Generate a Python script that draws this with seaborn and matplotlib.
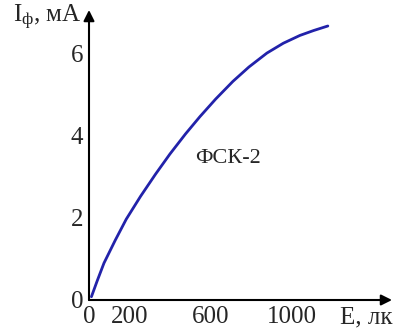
import numpy as np
import pandas as pd
import matplotlib
matplotlib.use('Agg')
import matplotlib.pyplot as plt
import seaborn as sns

# ФСК-2 light characteristic
illum = [12, 40, 74, 130, 184, 255, 329, 400, 477, 548, 626, 711, 790, 879, 960, 1042, 1110, 1180]
current = [0.08, 0.46, 0.9, 1.46, 1.97, 2.53, 3.07, 3.56, 4.05, 4.47, 4.9, 5.33, 5.68, 6.02, 6.26, 6.45, 6.57, 6.68]

x_ticks = [0, 200, 400, 600, 800, 1000, 1200]
x_labels = ['0', '200', '', '600', '', '1000', '']
y_ticks = [0, 1, 2, 3, 4, 5, 6]
y_labels = ['0', '', '2', '', '4', '', '6']

df = pd.DataFrame({'E': illum, 'I': current})

sns.set_style('white')
plt.rcParams['font.family'] = ['Liberation Serif', 'DejaVu Serif']
plt.rcParams['mathtext.fontset'] = 'custom'
plt.rcParams['mathtext.rm'] = 'Liberation Serif'

fig = plt.figure(figsize=(3.97, 3.34), dpi=100)
ax = fig.add_axes([89 / 397, 34 / 334, 303 / 397, 290 / 334])

sns.lineplot(data=df, x='E', y='I', ax=ax, color='#2222aa', linewidth=2.0)

ax.set_xlim(0, 1497)
ax.set_ylim(0, 7.07)
for s in ax.spines.values():
    s.set_visible(False)

ax.set_xticks(x_ticks)
ax.set_xticklabels(x_labels)
ax.set_yticks(y_ticks)
ax.set_yticklabels(y_labels)
ax.tick_params(direction='in', length=6.5, width=1.5, labelsize=18, color='k')
ax.tick_params(axis='x', pad=4)
ax.tick_params(axis='y', pad=4)
ax.set_xlabel('')
ax.set_ylabel('')

# axes with arrows
arrow = dict(arrowstyle='-|>', lw=1.5, color='k', mutation_scale=16, shrinkA=0, shrinkB=0)
ax.annotate('', xy=(1.0, 0), xytext=(0, 0), xycoords='axes fraction', arrowprops=arrow)
ax.annotate('', xy=(0, 1.0), xytext=(0, 0), xycoords='axes fraction', arrowprops=arrow)

ax.text(1.003, -0.06, 'E, лк', transform=ax.transAxes, ha='right', va='center', fontsize=18)
ax.text(-0.025, 0.975, r'$\mathregular{I_ф}$, мА', transform=ax.transAxes,
        ha='right', va='center', fontsize=18)
ax.text(687, 3.46, 'ФСК-2', ha='center', va='center', fontsize=16)

fig.savefig('out.png', dpi=100)
